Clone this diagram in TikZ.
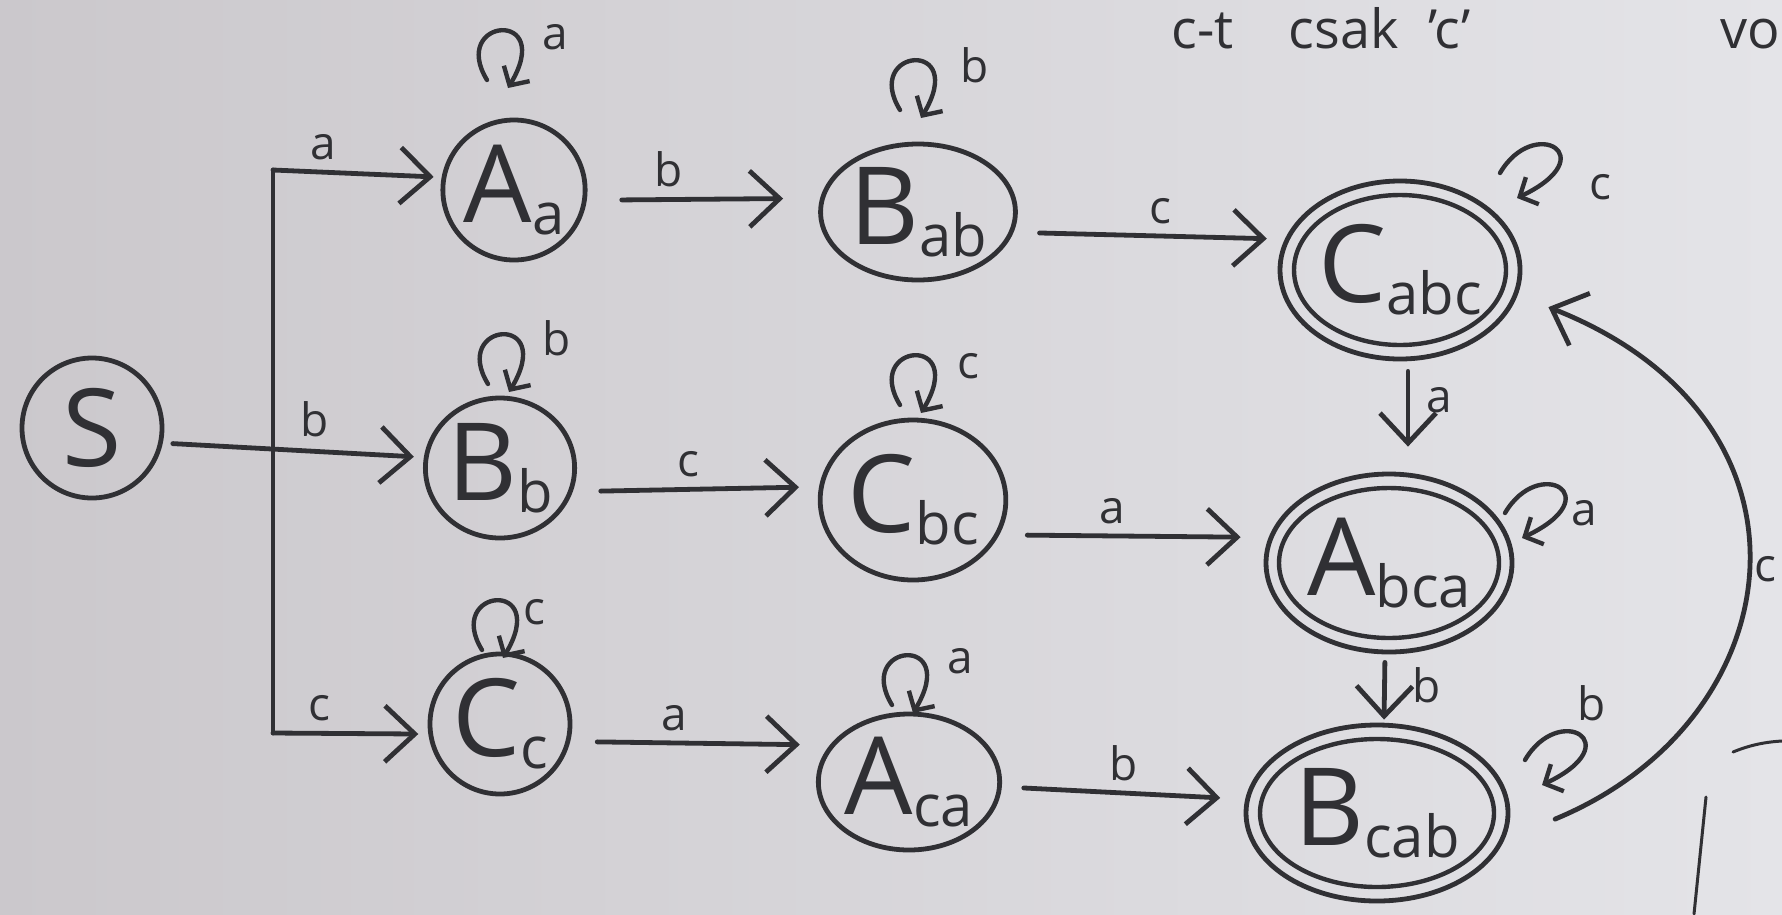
\documentclass[tikz,border=0pt]{standalone}
\usepackage{fontspec}
\setmainfont{Open Sans}
\usetikzlibrary{arrows.meta,shapes.geometric,calc}
\definecolor{ink}{RGB}{48,48,52}
\definecolor{paperL}{RGB}{203,200,204}
\definecolor{paperR}{RGB}{228,228,232}
\newcommand\subtx[1]{\raisebox{-12pt}{\fontsize{58}{58}\selectfont #1}}
% loop above a node: start offset (#2,#3) from the node centre
\newcommand\tloop[3]{\draw[selfloop] ($(#1)+(#2,#3)$) .. controls +(-38,62) and +(48,80) .. ($(#1)+(#2+21,#3-8)$);}
% loop at the upper right of a node
\newcommand\rloop[3]{\draw[selfloop] ($(#1)+(#2,#3)$) .. controls +(34,58) and +(88,42) .. ($(#1)+(#2+17,#3-25)$);}
\begin{document}
\begin{tikzpicture}[x=1pt,y=1pt,line cap=round,line join=round,
  state/.style={draw=ink,line width=4.8pt,ellipse,inner sep=0pt,text=ink,font=\fontsize{108}{108}\selectfont},
  tr/.style={draw=ink,line width=4.8pt,-{Straight Barb[length=30pt,width=56pt]}},
  plain/.style={draw=ink,line width=4.8pt},
  lbl/.style={text=ink,font=\fontsize{46}{46}\selectfont,inner sep=2pt},
  selfloop/.style={draw=ink,line width=4.4pt,-{Straight Barb[length=14pt,width=30pt]}},
  inner/.style={draw=ink,line width=4.4pt}]
\shade[left color=paperL,right color=paperR] (0,0) rectangle (1782,-914);
\useasboundingbox (0,0) rectangle (1782,-914);

% states
\node[state,minimum width=140,minimum height=140] (S) at (92,-428) {S};
\node[state,minimum width=140,minimum height=140] (Aa) at (514,-190) {A\subtx{a}};
\node[state,minimum width=172,minimum height=136] (Bab) at (918,-212) {B\subtx{ab}};
\node[state,minimum width=240,minimum height=178] (Cabc) at (1400,-270) {C\subtx{abc}};
\draw[inner] (Cabc.center) ellipse [x radius=106,y radius=75];
\node[state,minimum width=140,minimum height=140] (Bb) at (500,-468) {B\subtx{b}};
\node[state,minimum width=160,minimum height=160] (Cbc) at (913,-500) {C\subtx{bc}};
\node[state,minimum width=246,minimum height=178] (Abca) at (1389,-563) {A\subtx{bca}};
\draw[inner] (Abca.center) ellipse [x radius=110,y radius=75];
\node[state,minimum width=140,minimum height=140] (Cc) at (500,-724) {C\subtx{c}};
\node[state,minimum width=160,minimum height=136] (Aca) at (909,-782) {A\subtx{ca}};
\node[state,minimum width=262,minimum height=176] (Bcab) at (1377,-813) {B\subtx{cab}};
\draw[inner] (Bcab.center) ellipse [x radius=117,y radius=74];

% start fan-out
\coordinate (jt) at (273,-170);
\coordinate (jb) at (273,-733);
\draw[plain] (jt) -- (jb);
\draw[tr,shorten >=8pt] (jt) -- node[lbl,above=8pt,pos=0.3]{a} (Aa.170);
\draw[tr,shorten <=10pt,shorten >=10pt] (S.-12) -- node[lbl,above=10pt,pos=0.58]{b} (Bb.172);
\draw[tr,shorten >=10pt] (jb) -- node[lbl,above=8pt,pos=0.3]{c} (Cc.188);

% transitions
\draw[tr,shorten <=35pt,shorten >=37pt] (Aa.-8) -- node[lbl,above=8pt,pos=0.35]{b} (Bab.172);
\draw[tr,shorten <=26pt,shorten >=18pt] (Bab.-12) -- node[lbl,above=8pt,pos=0.54]{c} (Cabc.165);
\draw[tr,shorten <=28pt,shorten >=20pt] (Bb.-18) -- node[lbl,above=8pt,pos=0.47]{c} (Cbc.172);
\draw[tr,shorten <=28pt,shorten >=28pt] (Cbc.-22) -- node[lbl,above=8pt,pos=0.42]{a} (Abca.168);
\draw[tr,shorten <=27pt,shorten >=30pt] (Cc.-14) -- node[lbl,above=8pt,pos=0.4]{a} (Aca.155);
\draw[tr,shorten <=22pt,shorten >=25pt] (Aca.-3) -- node[lbl,above=8pt,pos=0.5]{b} (Bcab.174);
\draw[tr,shorten <=10pt,shorten >=25pt] ($(Cabc.south)+(8,0)$) -- node[lbl,right=14pt,pos=0.35]{a} ($(Abca.north)+(19,0)$);
\draw[tr,shorten <=8pt,shorten >=3pt] ($(Abca.south)+(-4,0)$) -- node[lbl,right=24pt,pos=0.45]{b} ($(Bcab.north)+(7,0)$);
\draw[tr,shorten <=55pt,shorten >=33pt] (Bcab.-12) .. controls (1795,-720) and (1835,-420) .. node[lbl,right=11pt,pos=0.5]{c} (Cabc.-12);

% self-loops
\tloop{Aa}{-27}{110}
\node[lbl] (lAa) at ($(Aa)+(41,153)$) {a};
\tloop{Bab}{-18}{102}
\node[lbl] (lBab) at ($(Bab)+(57,147)$) {b};
\tloop{Bb}{-12}{84}
\node[lbl] (lBb) at ($(Bb)+(57,130)$) {b};
\tloop{Cbc}{-13}{95}
\node[lbl] (lCbc) at ($(Cbc)+(55,134)$) {c};
\tloop{Cc}{-18}{74}
\node[lbl] (lCc) at ($(Cc)+(34,112)$) {c};
\tloop{Aca}{-17}{77}
\node[lbl] (lAca) at ($(Aca)+(51,121)$) {a};
\rloop{Cabc}{100}{97}
\node[lbl] (lCabc) at ($(Cabc)+(200,83)$) {c};
\rloop{Abca}{116}{50}
\node[lbl] (lAbca) at ($(Abca)+(195,50)$) {a};
\rloop{Bcab}{148}{53}
\node[lbl] (lBcab) at ($(Bcab)+(215,110)$) {b};

% top note (cut off by the frame)
\node[text=ink,font=\fontsize{54}{54}\selectfont,anchor=base west] (note) at (1168,-48) {c-t\hspace{55pt}csak\hspace{30pt}'c'\hspace{250pt}vo};

% stray strokes at bottom right
\draw[ink,line width=3pt] (1733,-752) .. controls (1750,-745) and (1765,-742) .. (1782,-741);
\draw[ink,line width=3pt] (1706,-797) -- (1694,-914);
\end{tikzpicture}
\end{document}
